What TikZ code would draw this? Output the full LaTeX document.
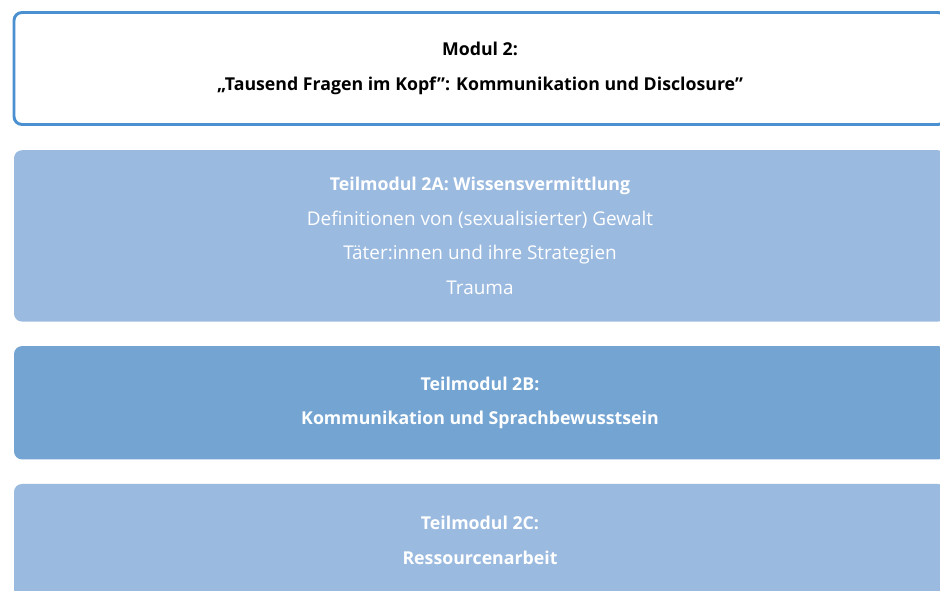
\documentclass[tikz,border=0pt]{standalone}
\usepackage{fontspec}
\setmainfont{Open Sans}
\usetikzlibrary{positioning}

\definecolor{rahmenblau}{RGB}{74,144,208}
\definecolor{hellblau}{RGB}{155,186,224}
\definecolor{mittelblau}{RGB}{116,164,210}

\newcommand{\zeile}[1]{{\fontsize{14.2}{26}\selectfont #1}}

\begin{document}
\begin{tikzpicture}[x=0.75pt,y=-0.75pt,node distance=18pt,
                    every node/.style={font=\fontsize{13.3}{26}\selectfont,
                      align=center,inner sep=0pt},
                    kasten/.style={rectangle,rounded corners=6pt,
                      minimum width=699pt},
                    modulbox/.style={kasten,draw=rahmenblau,line width=2.2pt,
                      fill=white,text=black,minimum height=84pt},
                    teilbox/.style={kasten,fill=hellblau,text=white},
                    teilboxdunkel/.style={kasten,fill=mittelblau,text=white}]
  \useasboundingbox (0,0) rectangle (940,591);
  \clip (0,0) rectangle (940,591);

  \node[modulbox] (modul) at (480,68.5)
    {\textbf{Modul 2:}\\\textbf{„Tausend Fragen im Kopf”: Kommunikation und Disclosure”}};
  \node[teilbox,minimum height=128.5pt] (teilA) [below=of modul]
    {\textbf{Teilmodul 2A: Wissensvermittlung}\\
     \zeile{Definitionen von (sexualisierter) Gewalt}\\
     \zeile{Täter:innen und ihre Strategien}\\
     \zeile{Trauma}};
  \node[teilboxdunkel,minimum height=85pt] (teilB) [below=of teilA]
    {\textbf{Teilmodul 2B:}\\\textbf{Kommunikation und Sprachbewusstsein}};
  \node[teilbox,minimum height=85pt] (teilC) [below=of teilB]
    {\textbf{Teilmodul 2C:}\\\textbf{Ressourcenarbeit}};
\end{tikzpicture}
\end{document}
